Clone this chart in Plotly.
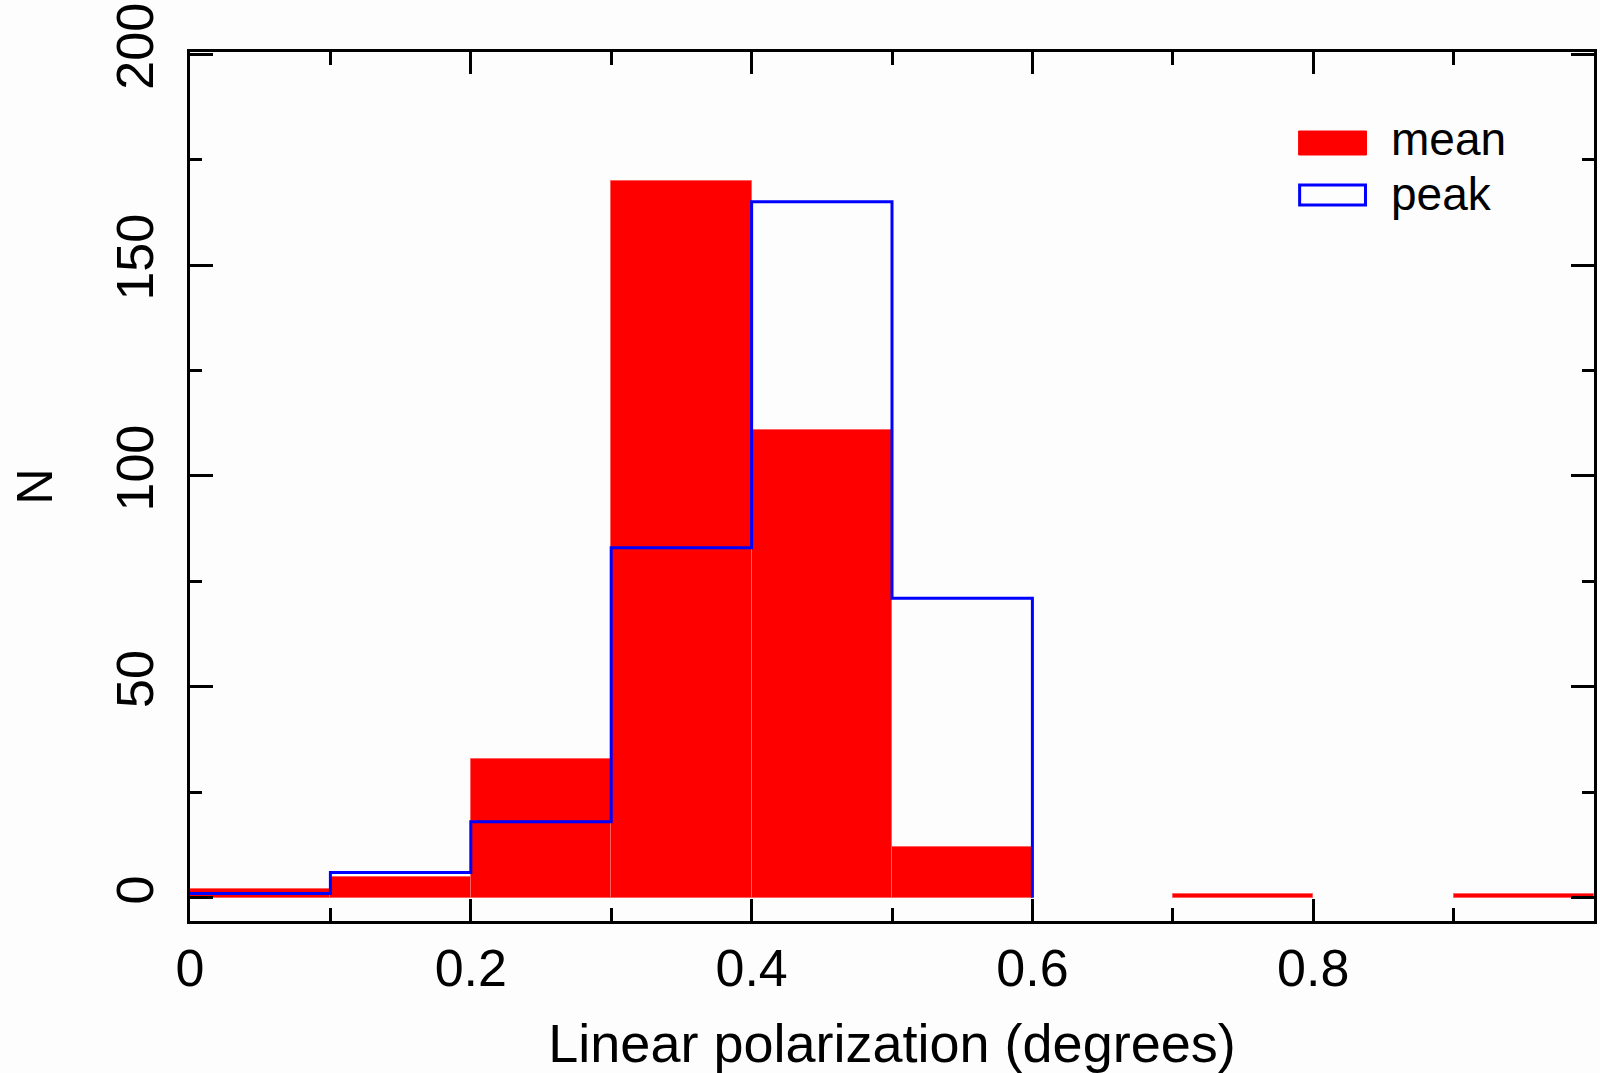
import plotly.graph_objects as go

# ---- data ----
bin_edges = [0.0, 0.1, 0.2, 0.3, 0.4, 0.5, 0.6, 0.7, 0.8, 0.9, 1.0]
mean_counts = [2, 5, 33, 170, 111, 12, 0, 1, 0, 1]
peak_counts = [1, 6, 18, 83, 165, 71, 0, 0, 0, 0]
series_names = ["mean", "peak"]
x_tick_vals = [0, 0.2, 0.4, 0.6, 0.8]
x_tick_text = ["0", "0.2", "0.4", "0.6", "0.8"]
y_tick_vals = [0, 50, 100, 150, 200]
y_tick_text = ["0", "50", "100", "150", "200"]

W, H = 1600, 1073
ML, MR, MT, MB = 190, 3, 52, 152
FONT = "Liberation Sans"

centers = [(bin_edges[i] + bin_edges[i + 1]) / 2 for i in range(len(mean_counts))]
widths = [bin_edges[i + 1] - bin_edges[i] for i in range(len(mean_counts))]
edge_widths = [1 if v > 0 else 0 for v in mean_counts]

fig = go.Figure()
fig.add_trace(go.Bar(
    x=centers, y=mean_counts, width=widths,
    marker=dict(color="#ff0000", line=dict(color="#ff6060", width=edge_widths)),
    name=series_names[0], showlegend=False,
))

last = max(i for i, v in enumerate(peak_counts) if v > 0)
step_x = bin_edges[: last + 2]
step_y = peak_counts[: last + 1] + [0]
fig.add_trace(go.Scatter(
    x=step_x, y=step_y, mode="lines", line=dict(color="#0000ff", width=3, shape="hv"),
    name=series_names[1], showlegend=False,
))

# legend drawn in paper coordinates
pw = W - ML - MR
ph = H - MT - MB
def px(x):
    return (x - ML) / pw
def py(y):
    return (H - MB - y) / ph

fig.add_shape(type="rect", xref="paper", yref="paper",
              x0=px(1301), x1=px(1369), y0=py(155), y1=py(131),
              fillcolor="#ff0000", line=dict(color="#ff0000", width=1))
fig.add_shape(type="rect", xref="paper", yref="paper",
              x0=px(1302), x1=px(1368), y0=py(205), y1=py(185),
              fillcolor="rgba(0,0,0,0)", line=dict(color="#0000ff", width=3))
fig.add_annotation(xref="paper", yref="paper", x=px(1392), y=py(139), text=series_names[0],
                   showarrow=False, xanchor="left", yanchor="middle",
                   font=dict(family=FONT, size=46, color="black"))
fig.add_annotation(xref="paper", yref="paper", x=px(1392), y=py(194), text=series_names[1],
                   showarrow=False, xanchor="left", yanchor="middle",
                   font=dict(family=FONT, size=46, color="black"))

axis_common = dict(
    showgrid=False, zeroline=False, showline=True, linecolor="black", linewidth=3,
    mirror="allticks", ticks="inside", tickcolor="black", tickwidth=3,
    tickfont=dict(family=FONT, size=52, color="black"),
)

fig.update_xaxes(
    **axis_common,
    range=[0, 1.0], tickmode="array", tickvals=x_tick_vals, ticktext=x_tick_text,
    ticklen=22, ticklabelstandoff=0,
    minor=dict(ticks="inside", dtick=0.1, tick0=0, ticklen=13, tickwidth=3, tickcolor="black", showgrid=False),
    title=dict(text="Linear polarization (degrees)", font=dict(family=FONT, size=54, color="black"), standoff=30),
)
fig.update_yaxes(
    **axis_common,
    range=[-5.5, 200.5], tickmode="array", tickvals=y_tick_vals, ticktext=y_tick_text,
    ticklen=23, tickangle=-90, ticklabelstandoff=13,
    minor=dict(ticks="inside", dtick=25, tick0=0, ticklen=12, tickwidth=3, tickcolor="black", showgrid=False),
    title=dict(text="N", font=dict(family=FONT, size=50, color="black"), standoff=38),
)

fig.update_layout(
    width=W, height=H, autosize=False,
    margin=dict(l=ML, r=MR, t=MT, b=MB, pad=0),
    paper_bgcolor="#fdfdfd", plot_bgcolor="#fdfdfd",
    bargap=0, showlegend=False,
)

fig.write_html("out.html")
